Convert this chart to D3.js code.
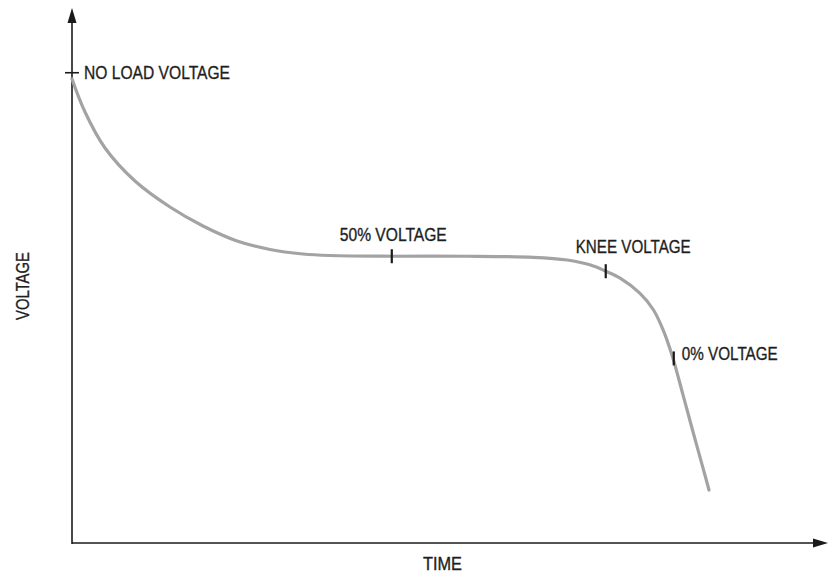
<!DOCTYPE html>
<html>
<head>
<meta charset="utf-8">
<script src="https://cdn.jsdelivr.net/npm/d3@7"></script>
<style>
  html, body { margin: 0; padding: 0; background: #fff; }
  svg { display: block; }
  text { font-family: "Liberation Sans Narrow", "Liberation Sans", Arial, sans-serif; fill: #1e1e1e; stroke: #1e1e1e; stroke-width: 0.35; }
</style>
</head>
<body>
<svg id="chart" width="831" height="575"></svg>
<script>
// ---- data (time units 0..100, voltage units 0..100) ----
const curveTime    = [0, 1.72, 4.37, 8.33, 12.96, 17.33, 21.83, 26.19, 30.56, 34.13, 42.3, 52.2, 61.0, 65.5, 68.5, 70.6, 72.5, 75.1, 76.9, 78.2, 79.37, 80.82, 82.14, 83.47, 84.26];
const curveVoltage = [86.73, 80.56, 73.83, 67.66, 62.80, 59.25, 56.45, 54.86, 54.02, 53.74, 53.6, 53.6, 53.4, 52.9, 52.0, 50.8, 49.5, 46.7, 43.6, 39.8, 35.1, 27.7, 20.8, 14.0, 9.9];

const markerNames   = ["50% VOLTAGE", "KNEE VOLTAGE", "0% VOLTAGE"];
const markerTime    = [42.3, 70.6, 79.6];
const markerVoltage = [53.6, 50.8, 34.5];

const noLoadLabel   = "NO LOAD VOLTAGE";
const noLoadVoltage = 87.9;

const xAxisTitle = "TIME";
const yAxisTitle = "VOLTAGE";

// ---- layout ----
const svg = d3.select("#chart");
const x = d3.scaleLinear().domain([0, 100]).range([72, 828]);
const y = d3.scaleLinear().domain([0, 100]).range([543, 8]);

// axes
const axisColor = "#1a1a1a";
svg.append("line").attr("x1", x(0)).attr("x2", x(100) - 10).attr("y1", y(0)).attr("y2", y(0))
  .attr("stroke", axisColor).attr("stroke-width", 1.6);
svg.append("line").attr("x1", x(0)).attr("x2", x(0)).attr("y1", y(0) + 1).attr("y2", y(100) + 10)
  .attr("stroke", axisColor).attr("stroke-width", 1.6);
// arrow heads
svg.append("path")
  .attr("d", `M${x(100)},${y(0)} L${x(100) - 15},${y(0) - 4.5} L${x(100) - 15},${y(0) + 4.5} Z`)
  .attr("fill", axisColor);
svg.append("path")
  .attr("d", `M${x(0)},${y(100)} L${x(0) - 4.5},${y(100) + 15} L${x(0) + 4.5},${y(100) + 15} Z`)
  .attr("fill", axisColor);

// curve
const pts = curveTime.map((t, i) => [t, curveVoltage[i]]);
const line = d3.line().x(d => x(d[0])).y(d => y(d[1])).curve(d3.curveCatmullRom.alpha(0.5));
svg.append("path").datum(pts).attr("d", line)
  .attr("fill", "none").attr("stroke", "#a3a3a3").attr("stroke-width", 3.2)
  .attr("stroke-linecap", "round");

// no-load tick (horizontal, on the y axis)
svg.append("line").attr("x1", x(0) - 7).attr("x2", x(0) + 7)
  .attr("y1", y(noLoadVoltage)).attr("y2", y(noLoadVoltage))
  .attr("stroke", axisColor).attr("stroke-width", 1.6);

// marker ticks
svg.selectAll("line.mk").data(markerTime).join("line").attr("class", "mk")
  .attr("x1", (d) => x(d)).attr("x2", (d) => x(d))
  .attr("y1", (d, i) => y(markerVoltage[i]) - 7).attr("y2", (d, i) => y(markerVoltage[i]) + 7)
  .attr("stroke", axisColor).attr("stroke-width", 2.2);

// labels: [dx from tick, baseline dy from tick, width]
const labelOffsets = [[-52, -15, 107], [-30, -18, 115], [8, 2, 96]];
svg.selectAll("text.mk").data(markerNames).join("text").attr("class", "mk")
  .attr("x", (d, i) => x(markerTime[i]) + labelOffsets[i][0])
  .attr("y", (d, i) => y(markerVoltage[i]) + labelOffsets[i][1])
  .attr("font-size", 19)
  .attr("textLength", (d, i) => labelOffsets[i][2])
  .attr("lengthAdjust", "spacingAndGlyphs")
  .text(d => d);

svg.append("text").attr("x", 84).attr("y", y(noLoadVoltage) + 6)
  .attr("font-size", 19).attr("textLength", 146).attr("lengthAdjust", "spacingAndGlyphs")
  .text(noLoadLabel);

// axis titles
svg.append("text").attr("x", 423).attr("y", 570)
  .attr("font-size", 18.5).attr("textLength", 39).attr("lengthAdjust", "spacingAndGlyphs")
  .text(xAxisTitle);

svg.append("text").attr("transform", "translate(28.5,286) rotate(-90)")
  .attr("text-anchor", "middle")
  .attr("font-size", 18).attr("textLength", 68).attr("lengthAdjust", "spacingAndGlyphs")
  .text(yAxisTitle);
</script>
</body>
</html>
